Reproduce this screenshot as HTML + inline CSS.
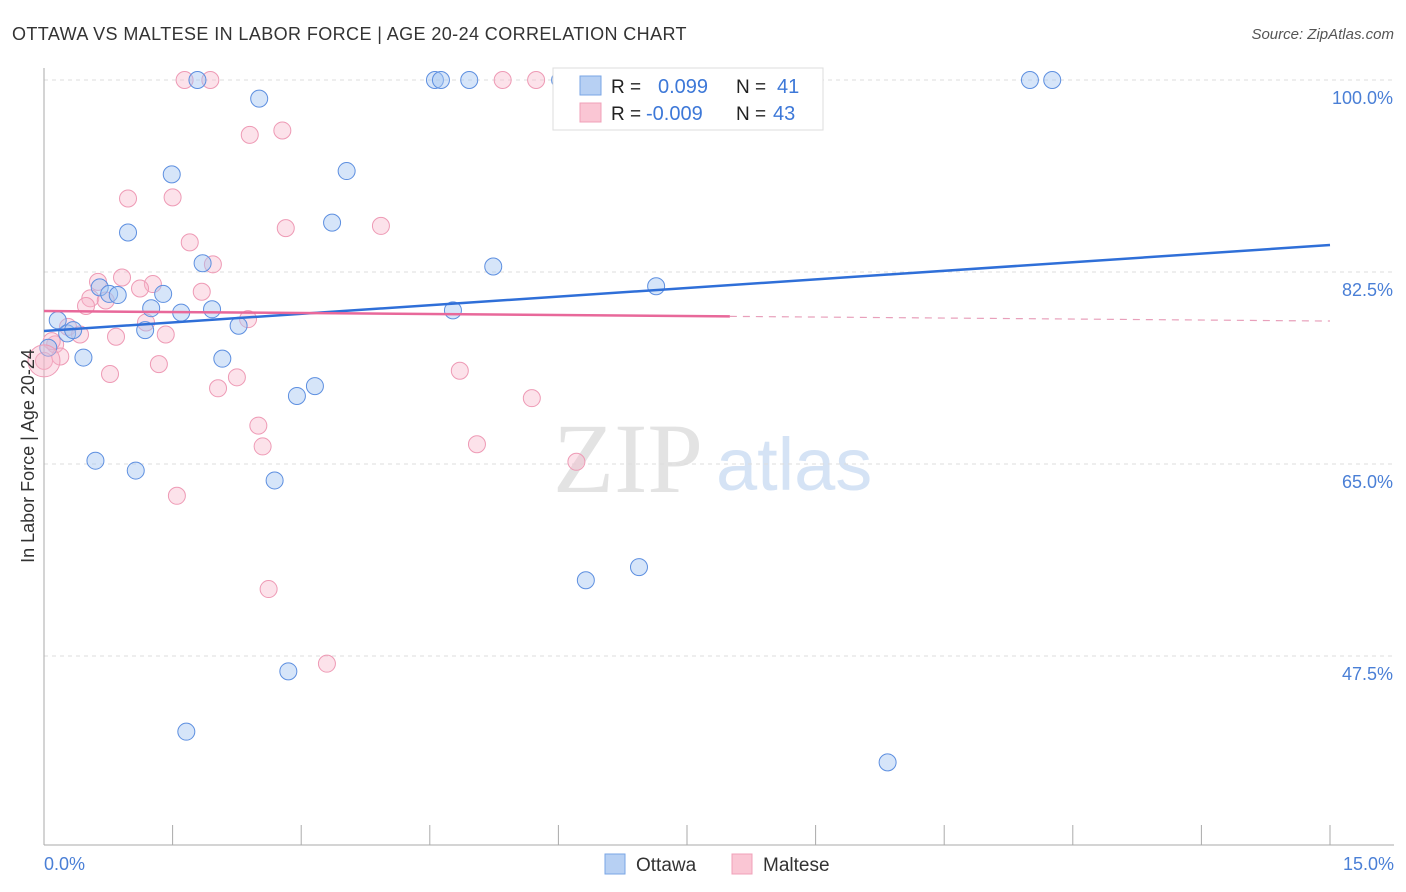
<!DOCTYPE html>
<html><head><meta charset="utf-8"><style>
body{margin:0;background:#fff;font-family:"Liberation Sans",sans-serif;}
svg{display:block}
</style></head><body>
<svg id="chart" width="1406" height="892">
<text x="12" y="40" font-size="18" letter-spacing="0.4" fill="#333">OTTAWA VS MALTESE IN LABOR FORCE | AGE 20-24 CORRELATION CHART</text>
<text x="1394" y="39" font-size="15" fill="#555" font-style="italic" text-anchor="end">Source: ZipAtlas.com</text>
<text x="553" y="492" font-size="100" fill="#e3e3e3" font-family="Liberation Serif,serif">ZIP</text>
<text x="716" y="490" font-size="74" fill="#d5e3f5">atlas</text>
<g id="grid"></g>
<g id="axes"></g>
<g id="pts"></g>
<g id="lines"></g>
<text transform="translate(34,456) rotate(-90)" font-size="18" fill="#333" text-anchor="middle">In Labor Force | Age 20-24</text>
<text x="44" y="870" font-size="18" fill="#4a7fd6">0.0%</text>
<text x="1394" y="870" font-size="18" fill="#4a7fd6" text-anchor="end">15.0%</text>
<g>
<rect x="553" y="68" width="270" height="62" fill="#fff" stroke="#ddd"/>
<rect x="580" y="76" width="21" height="19" fill="#b7d0f3" stroke="#7aa6e6"/>
<rect x="580" y="103" width="21" height="19" fill="#fac6d4" stroke="#f0a0b8"/>
<text x="611" y="93" font-size="19" fill="#222">R =</text>
<text x="658" y="93" font-size="20" fill="#3d78d8">0.099</text>
<text x="736" y="93" font-size="19" fill="#222">N =</text>
<text x="777" y="93" font-size="20" fill="#3d78d8">41</text>
<text x="611" y="120" font-size="19" fill="#222">R =</text>
<text x="646" y="120" font-size="20" fill="#3d78d8">-0.009</text>
<text x="736" y="120" font-size="19" fill="#222">N =</text>
<text x="773" y="120" font-size="20" fill="#3d78d8">43</text>
</g>
<g>
<rect x="605" y="854" width="20" height="20" fill="#b7d0f3" stroke="#7aa6e6"/>
<text x="636" y="871" font-size="19" fill="#333">Ottawa</text>
<rect x="732" y="854" width="20" height="20" fill="#fac6d4" stroke="#f0a0b8"/>
<text x="763" y="871" font-size="19" fill="#333">Maltese</text>
</g>
</svg>
<script>
const yTicks=[100,82.5,65,47.5];
const yTickLabels=["100.0%","82.5%","65.0%","47.5%"];
const xTicks=[0,1.5,3,4.5,6,7.5,9,10.5,12,13.5,15];
const ottawaX=[1.79,4.56,4.63,4.96,6.02,11.5,11.76,2.51,1.49,3.53,3.36,0.98,1.85,5.24,7.14,0.65,0.76,0.86,1.39,1.25,1.60,1.96,0.16,0.27,0.34,1.18,2.27,4.77,0.05,0.46,2.08,3.16,2.95,0.60,1.07,2.69,6.32,6.94,2.85,1.66,9.84];
const ottawaY=[100,100,100,100,100,100,100,98.3,91.4,91.7,87.0,86.1,83.3,83.0,81.2,81.1,80.5,80.4,80.5,79.2,78.8,79.1,78.1,76.9,77.2,77.2,77.6,79.0,75.6,74.7,74.6,72.1,71.2,65.3,64.4,63.5,54.4,55.6,46.1,40.6,37.8];
const malteseX=[1.64,1.94,5.35,5.74,2.40,2.78,0.98,1.50,1.70,2.82,3.93,1.97,0.63,0.91,1.27,1.12,1.84,0.54,0.72,0.49,2.38,1.19,0.28,0.42,1.42,0.84,0.13,0.19,0.0,1.34,0.77,2.25,4.85,2.03,5.69,2.50,2.55,5.05,6.21,1.55,2.62,3.30,0.09];
const malteseY=[100,100,100,100,95.0,95.4,89.2,89.3,85.2,86.5,86.7,83.2,81.6,82.0,81.4,81.0,80.7,80.1,79.9,79.4,78.2,77.9,77.5,76.8,76.8,76.6,75.9,74.8,74.4,74.1,73.2,72.9,73.5,71.9,71.0,68.5,66.6,66.8,65.2,62.1,53.6,46.8,76.2];
const X=v=>44+v/15*1286, Y=v=>80+(100-v)*10.971;
const NS="http://www.w3.org/2000/svg";
function mk(t,a,p){const e=document.createElementNS(NS,t);for(const k in a)e.setAttribute(k,a[k]);p.appendChild(e);return e;}
const g=document.getElementById('grid'),ax=document.getElementById('axes'),pts=document.getElementById('pts'),ln=document.getElementById('lines');
yTicks.forEach((v,i)=>{
 const l=mk('line',{x1:44,x2:1394,y1:Y(v),y2:Y(v),stroke:'#ddd','stroke-dasharray':'4,4'},g);
 
 
 const t=mk('text',{x:1393,y:Y(v)+24,'font-size':18,fill:'#4a7fd6','text-anchor':'end'},g);t.textContent=yTickLabels[i];
 
 
});
const ya=mk('line',{x1:44,x2:44,y1:68,y2:845,stroke:'#aaa'},ax);


const xa=mk('line',{x1:44,x2:1394,y1:845,y2:845,stroke:'#aaa'},ax);


xTicks.forEach(v=>{const t=mk('line',{x1:X(v),x2:X(v),y1:825,y2:845,stroke:'#aaa'},ax);
 
 });
function series(xs,ys,fill,stroke,name){xs.forEach((x,i)=>{
 const c=mk('circle',{cx:X(x),cy:Y(ys[i]),r:8.5,fill:fill,stroke:stroke,'stroke-width':1},pts);
 
 });}
series(malteseX,malteseY,'rgba(248,182,202,0.4)','#ee9ab5','maltese-point');
series(ottawaX,ottawaY,'rgba(165,198,242,0.45)','#5d8fe0','ottawa-point');
const big=mk('circle',{cx:X(0),cy:Y(74.4),r:16,fill:'rgba(248,182,202,0.4)',stroke:'#ee9ab5'},pts);


const trendO=[77.12,84.96], trendM=[78.94,78.03];
const a=mk('line',{x1:X(0),y1:Y(trendO[0]),x2:X(15),y2:Y(trendO[1]),stroke:'#2f6fd8','stroke-width':2.5},ln);


const mAt=v=>trendM[0]+(trendM[1]-trendM[0])*v/15;
const b=mk('line',{x1:X(0),y1:Y(trendM[0]),x2:X(8),y2:Y(mAt(8)),stroke:'#e8689a','stroke-width':2.5},ln);


const c=mk('line',{x1:X(8),y1:Y(mAt(8)),x2:X(15),y2:Y(trendM[1]),stroke:'#e8a0bb','stroke-width':1.2,'stroke-dasharray':'7,6'},ln);


</script>
</body></html>
